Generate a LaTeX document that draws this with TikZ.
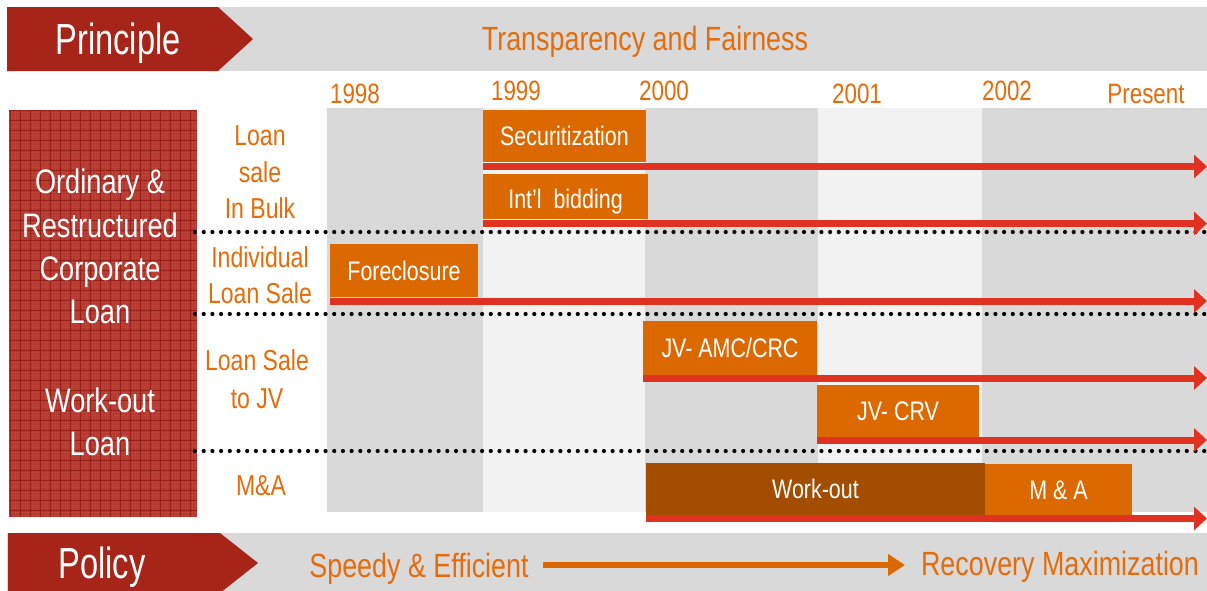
\documentclass[tikz,border=0pt]{standalone}
\usepackage{fontspec}
\setmainfont{Liberation Sans}[FakeStretch=0.8]
\newfontfamily\bannerfont{Liberation Sans}[FakeStretch=0.75]
\usetikzlibrary{arrows.meta}

\definecolor{bannerRed}{RGB}{166,36,24}
\definecolor{bandGray}{RGB}{217,217,217}
\definecolor{colLight}{RGB}{242,242,242}
\definecolor{txtOrange}{RGB}{228,108,10}
\definecolor{boxOrange}{RGB}{220,105,0}
\definecolor{boxBrown}{RGB}{163,77,0}
\definecolor{arrowRed}{RGB}{224,50,32}
\definecolor{loanRed}{RGB}{178,54,44}
\definecolor{loanLine}{RGB}{152,32,25}
\definecolor{loanLight}{RGB}{205,95,85}

\newcommand\setfs[1]{\fontsize{#1}{#1}\selectfont}

\begin{document}
\begin{tikzpicture}[x=1pt,y=-1pt,
  every node/.style={inner sep=0pt, outer sep=0pt},
  bannertext/.style={text=white, font=\bannerfont\setfs{43.5}, anchor=base},
  headline/.style={text=txtOrange, font=\setfs{33.6}, anchor=base},
  yearlabel/.style={text=txtOrange, font=\setfs{28}, anchor=base},
  rowlabel/.style={text=txtOrange, font=\setfs{28.8}, anchor=base},
  loantext/.style={text=white, font=\setfs{34}, anchor=base},
  stagebox/.style={fill=boxOrange, text=white, font=\setfs{26.8}, anchor=north west},
  stagetext/.style={text=white, font=\setfs{26.8}},
  trend/.style={draw=arrowRed, line width=7pt, -{Triangle[length=13pt,width=23pt]}},
  policyarrow/.style={draw=boxOrange, line width=6pt, -{Triangle[length=17pt,width=21pt]}},
  divider/.style={draw=black, line width=4.2pt, line cap=round, dash pattern=on 0pt off 8.7pt},
]
\useasboundingbox (0,0) rectangle (1207,590);
\clip (0,0) rectangle (1207,590);
\fill[white] (0,0) rectangle (1207,590);

% banner bands
\fill[bandGray] (7,7) rectangle (1207,71);
\fill[bandGray] (7,533) rectangle (1207,597);
\fill[bannerRed] (7,7) -- (218,7) -- (253,39) -- (218,71) -- (7,71) -- cycle;
\fill[bannerRed] (8,533) -- (220,533) -- (258,563) -- (220,593) -- (8,593) -- cycle;

% year columns
\fill[bandGray] (327,108) rectangle (483,512);
\fill[colLight] (483,108) rectangle (645,512);
\fill[bandGray] (645,108) rectangle (818,512);
\fill[colLight] (818,108) rectangle (982,512);
\fill[bandGray] (982,108) rectangle (1207,512);

% textured loan-type block
\fill[loanRed] (9,110) rectangle (197,517);
\begin{scope}
  \clip (9,110) rectangle (197,517);
  \draw[loanLight, line width=0.5pt, opacity=0.3] (9,110) grid[step=2.5pt] (197,517);
  \draw[loanLine, line width=1pt] (9,110) grid[step=10pt] (197,517);
\end{scope}

% banner texts
\node[bannertext] (principle) at (118,54) {Principle};
\node[headline] (fair) at (645,50) {Transparency and Fairness};
\node[bannertext] (policy) at (102,578) {Policy};
\node[headline] (speedy) at (419,577) {Speedy \& Efficient};
\node[headline] (recovery) at (1060,575) {Recovery Maximization};
\coordinate (pa) at (543,565);
\coordinate (pb) at (905,565);
\draw[policyarrow] (pa) -- (pb);

% years
\node[yearlabel] (y98) at (355,103) {1998};
\node[yearlabel] (y99) at (516,100) {1999};
\node[yearlabel] (y00) at (664,100) {2000};
\node[yearlabel] (y01) at (857,103) {2001};
\node[yearlabel] (y02) at (1007,100) {2002};
\node[yearlabel] (ypr) at (1146,103) {Present};

% loan types
\node[loantext] (lt1) at (100,193) {Ordinary \&};
\node[loantext] (lt2) at (100,237) {Restructured};
\node[loantext] (lt3) at (100,280) {Corporate};
\node[loantext] (lt4) at (100,323) {Loan};
\node[loantext] (lt5) at (100,412) {Work-out};
\node[loantext] (lt6) at (100,455) {Loan};

% disposal methods
\node[rowlabel] (r1a) at (260,145) {Loan};
\node[rowlabel] (r1b) at (260,182) {sale};
\node[rowlabel] (r1c) at (260,218) {In Bulk};
\node[rowlabel] (r2a) at (260,267) {Individual};
\node[rowlabel] (r2b) at (260,303) {Loan Sale};
\node[rowlabel] (r3a) at (257,370) {Loan Sale};
\node[rowlabel] (r3b) at (257,408) {to JV};
\node[rowlabel] (r4a) at (261,495) {M\&A};

% row dividers
\draw[divider] (195,232) -- (1207,232);
\draw[divider] (195,314) -- (1207,314);
\draw[divider] (195,451) -- (1207,451);

% stages and their continuing trends
\coordinate (secEnd) at (1207,166.5);
\coordinate (bidEnd) at (1207,223.5);
\coordinate (fclEnd) at (1207,301);
\coordinate (amcEnd) at (1207,378);
\coordinate (crvEnd) at (1207,440);
\coordinate (wkoEnd) at (1207,518.5);

\node[stagebox, minimum width=163, minimum height=52] (sec) at (483,110) {Securitization};
\node[stagebox, minimum width=165, minimum height=45] (bid) at (483,174) {};
\node[stagetext, yshift=-5pt] (bidlbl) at (bid.center) {Int’l~~bidding};
\node[stagebox, minimum width=148, minimum height=53] (fcl) at (330,244) {Foreclosure};
\node[stagebox, minimum width=174, minimum height=54] (amc) at (643,321) {JV- AMC/CRC};
\node[stagebox, minimum width=162, minimum height=52] (crv) at (817,385) {JV- CRV};
\node[stagebox, minimum width=147, minimum height=52] (mna) at (985,464) {M \& A};
\node[stagebox, fill=boxBrown, minimum width=339, minimum height=52] (wko) at (646,463) {Work-out};

\draw[trend] (sec.south west |- secEnd) -- (secEnd);
\draw[trend] (bid.south west |- bidEnd) -- (bidEnd);
\draw[trend] (fcl.south west |- fclEnd) -- (fclEnd);
\draw[trend] (amc.south west |- amcEnd) -- (amcEnd);
\draw[trend] (crv.south west |- crvEnd) -- (crvEnd);
\draw[trend] (wko.south west |- wkoEnd) -- (wkoEnd);
\end{tikzpicture}
\end{document}
